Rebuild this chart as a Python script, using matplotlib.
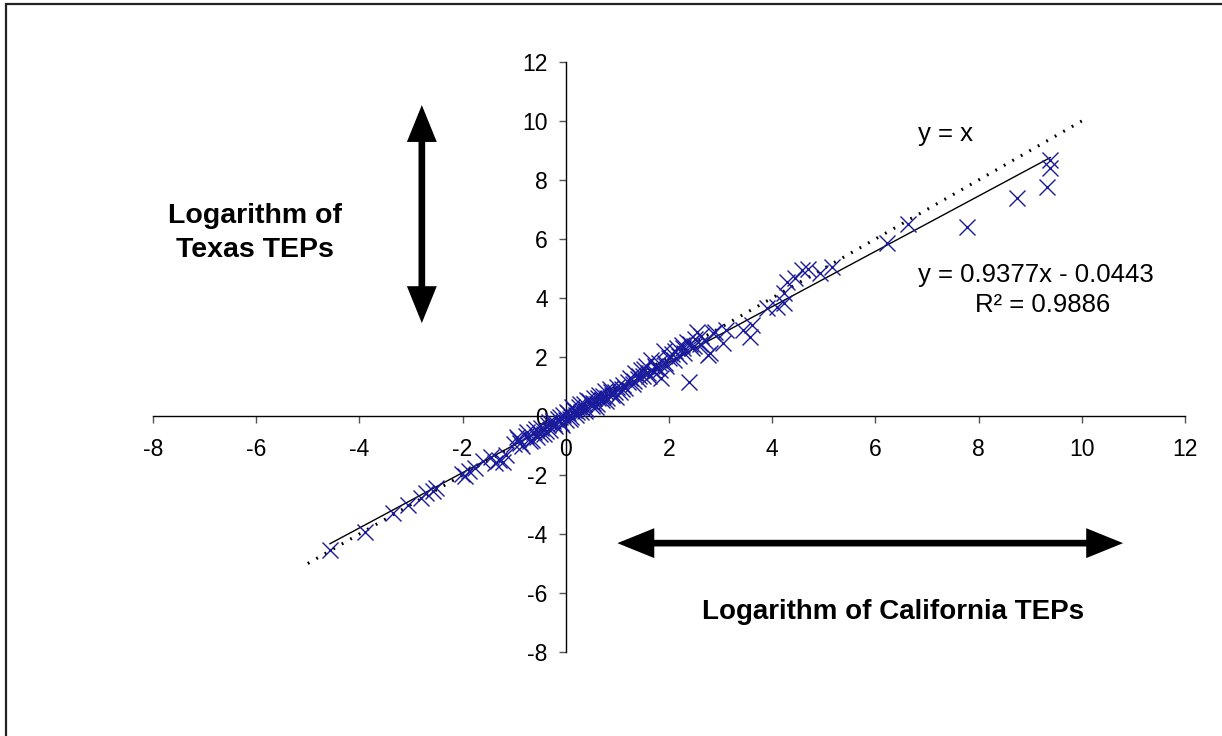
import matplotlib
matplotlib.use("Agg")
import matplotlib.pyplot as plt
from matplotlib.patches import FancyArrowPatch, Rectangle
import numpy as np

plt.rcParams['font.family'] = ['Liberation Sans', 'DejaVu Sans']
plt.rcParams['axes.unicode_minus'] = False

# Log TEP values: California (x) vs Texas (y)
ca_log = [
    -4.57, -3.89, -3.35, -3.05, -2.80, -2.70, -2.58, -2.52, -2.02, -1.95,
    -1.88, -1.75, -1.60, -1.45, -1.38, -1.30, -1.22, -1.15, -1.00, -0.92,
    -0.85, -0.78, -0.70, -0.62, -0.55, -0.48, -0.42, -0.35, -0.30, -0.25,
    -0.20, -0.15, -0.10, -0.05, 0.00, 0.05, 0.10, 0.15, 0.20, 0.25,
    0.30, 0.35, 0.40, 0.45, 0.50, 0.55, 0.60, 0.65, 0.70, 0.75,
    0.80, 0.85, 0.90, 0.95, 1.00, 1.05, 1.10, 1.15, 1.25, 1.30,
    1.35, 1.40, 1.45, 1.50, 1.55, 1.60, 1.65, 1.70, 1.75, 1.80,
    1.85, 1.90, 1.95, 2.00, 2.05, 2.10, 2.15, 2.20, 2.25, 2.30,
    2.39, 2.40, 2.45, 2.50, 2.55, 2.60, 2.70, 2.76, 2.80, 2.86,
    2.90, 3.05, 3.10, 3.44, 3.57, 3.60, 3.90, 4.10, 4.22, 4.22,
    4.29, 4.45, 4.58, 4.70, 4.93, 5.16, 6.23, 6.63, 7.78, 8.75,
    9.32, 9.39, 9.39,
    -0.95, -0.88, -0.75, -0.65, -0.58, -0.50, -0.38, -0.33, -0.22, -0.12,
    -0.08, 0.02, 0.08, 0.12, 0.22, 0.28, 0.38, 0.42, 0.52, 0.58,
    0.62, 0.72, 0.78, 0.88, 0.98, 1.08, 1.20, 1.32, 1.42, 1.52,
    1.62, 1.72, 1.82, 1.92, 2.12, 2.28, 2.35, 2.48, 2.62,
]
tx_log = [
    -4.54, -3.93, -3.29, -3.02, -2.78, -2.62, -2.55, -2.45, -1.98, -2.05,
    -1.88, -1.75, -1.52, -1.40, -1.60, -1.48, -1.55, -1.32, -0.95, -0.78,
    -1.02, -0.68, -0.85, -0.55, -0.72, -0.42, -0.60, -0.30, -0.48, -0.18,
    -0.35, -0.10, -0.25, 0.02, -0.12, 0.10, -0.05, 0.22, 0.05, 0.30,
    0.12, 0.40, 0.25, 0.50, 0.35, 0.60, 0.42, 0.72, 0.55, 0.85,
    0.62, 0.90, 0.70, 0.82, 1.00, 0.80, 1.05, 0.95, 1.30, 1.10,
    1.45, 1.25, 1.55, 1.35, 1.70, 1.45, 1.90, 1.50, 1.62, 1.80,
    1.30, 2.20, 1.70, 1.95, 2.10, 1.90, 2.30, 2.05, 2.40, 2.15,
    1.15, 2.45, 2.30, 2.60, 2.85, 2.45, 2.55, 2.07, 2.15, 2.80,
    2.85, 2.47, 2.90, 2.92, 2.68, 3.10, 3.66, 3.70, 3.83, 4.17,
    4.54, 4.68, 4.95, 5.00, 4.84, 5.05, 5.86, 6.51, 6.41, 7.39,
    7.76, 8.40, 8.68,
    -0.70, -0.90, -0.55, -0.80, -0.45, -0.62, -0.50, -0.20, -0.28, -0.02,
    -0.30, 0.15, -0.10, 0.32, 0.15, 0.40, 0.18, 0.55, 0.45, 0.30,
    0.62, 0.68, 0.50, 0.80, 0.65, 0.90, 1.15, 1.20, 1.35, 1.60,
    1.35, 1.70, 1.55, 1.80, 2.20, 2.30, 2.50, 2.38, 2.70,
]

# Fitted trend line coefficients and reference identity line extent
fit_slope = 0.9377
fit_intercept = -0.0443
fit_r2 = 0.9886
identity_range = [-5, 10]

axis_ticks = [-8, -6, -4, -2, 0, 2, 4, 6, 8, 10, 12]

fig = plt.figure(figsize=(12.22, 7.36), dpi=100)
ax = fig.add_axes([153 / 1222, 1 - 652 / 736, (1185 - 153) / 1222, (652 - 62) / 736])
ax.set_xlim(-8, 12)
ax.set_ylim(-8, 12)

# Axes crossing at the origin
ax.spines['left'].set_position(('data', 0))
ax.spines['bottom'].set_position(('data', 0))
ax.spines['right'].set_visible(False)
ax.spines['top'].set_visible(False)
for s in ('left', 'bottom'):
    ax.spines[s].set_linewidth(1.0)
    ax.spines[s].set_color('black')
ax.set_xticks(axis_ticks)
ax.set_yticks(axis_ticks)
ax.tick_params(axis='both', direction='out', length=5, width=1, color='#555555',
               labelsize=16.5, labelcolor='black')
ax.tick_params(axis='x', pad=11)
ax.tick_params(axis='y', pad=8)
ax.patch.set_visible(False)

# Identity line y = x
ax.plot(identity_range, identity_range, color='black', lw=2.2,
        linestyle=(0, (0.6, 2.6)), dash_capstyle='butt', zorder=2)

# Linear trend line over the data range
xs = np.array([min(ca_log), max(ca_log)])
ax.plot(xs, fit_slope * xs + fit_intercept, color='black', lw=1.0, zorder=3)

# Scatter of log TEPs
ax.plot(ca_log, tx_log, linestyle='none', marker='x', markersize=12,
        markeredgewidth=1.0, color='#1a1a9c', zorder=4)

# Double-headed arrows with axis captions
arrow_style = '<|-|>,head_length=0.74,head_width=0.30'
for start, end in [((-2.79, 3.15), (-2.79, 10.54)), ((1.0, -4.31), (10.8, -4.31))]:
    arr = FancyArrowPatch(start, end, arrowstyle=arrow_style, mutation_scale=24,
                          lw=4.8, color='black', joinstyle='miter', capstyle='butt',
                          shrinkA=0, shrinkB=0, clip_on=False, zorder=5)
    ax.add_patch(arr)

ax.text(-6.02, 6.20, 'Logarithm of\nTexas TEPs', ha='center', va='center',
        multialignment='center', fontsize=20.5, fontweight='bold', linespacing=1.4)
ax.text(6.34, -6.64, 'Logarithm of California TEPs', ha='center', va='center',
        fontsize=20, fontweight='bold')

ax.text(6.83, 9.55, 'y = x', ha='left', va='center', fontsize=18.5)
ax.text(6.83, 4.78, f'y = {fit_slope}x - {abs(fit_intercept)}', ha='left',
        va='center', fontsize=18.5)
ax.text(7.93, 3.76, f'R\u00b2 = {fit_r2}', ha='left', va='center', fontsize=18.5)

# Outer chart frame
fig.patches.append(Rectangle((6 / 1222, -0.1), 1.2, (736 - 4) / 736 + 0.1,
                             transform=fig.transFigure, fill=False,
                             edgecolor='#222222', lw=1.6))

fig.savefig('out.png', dpi=100, facecolor='white')
